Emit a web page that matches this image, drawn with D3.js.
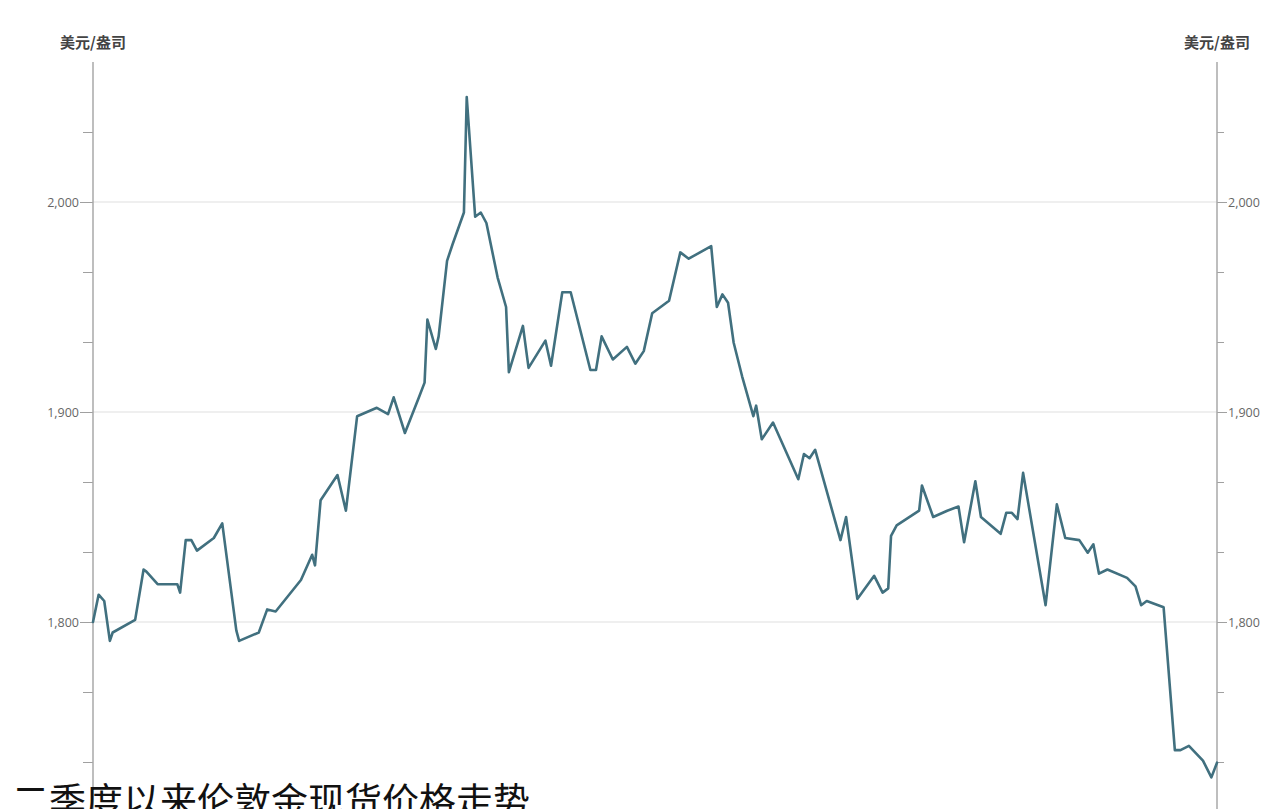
<!DOCTYPE html>
<html>
<head>
<meta charset="utf-8">
<script src="https://cdn.jsdelivr.net/npm/d3@7/dist/d3.min.js"></script>
<style>
  html, body { margin: 0; padding: 0; background: #fff; overflow: hidden; }
  svg { display: block; }
</style>
</head>
<body>
<svg id="chart" width="1284" height="809"></svg>
<script>
// ---- data (trading-session index, price in USD/oz) ----
const sessions = [0,2,4,6,7,15,18,19,23,30,31,33,35,37,43,46,51,52,59,62,65,74,78,79,81,87,90,94,101,105,107,111,116,118,119,122,123,126,128,132,133,136,138,140,144,147,148,153,155,161,163,167,170,177,179,181,185,190,193,196,199,205,209,212,220,222,224,226,228,231,235,236,238,242,251,253,255,257,266,268,272,278,281,283,284,286,294,295,299,304,308,310,314,316,323,325,327,329,331,339,343,346,351,354,356,358,361,368,371,373,375,381,385,387,390,395,398,400];
const prices = [1800,1813,1810,1791,1795,1801,1825,1824,1818,1818,1814,1839,1839,1834,1840,1847,1796,1791,1795,1806,1805,1820,1832,1827,1858,1870,1853,1898,1902,1899,1907,1890,1907,1914,1944,1930,1936,1972,1980,1995,2050,1993,1995,1990,1964,1950,1919,1941,1921,1934,1922,1957,1957,1920,1920,1936,1925,1931,1923,1929,1947,1953,1976,1973,1979,1950,1956,1952,1933,1917,1898,1903,1887,1895,1868,1880,1878,1882,1839,1850,1811,1822,1814,1816,1841,1846,1853,1865,1850,1853,1855,1838,1867,1850,1842,1852,1852,1849,1871,1808,1856,1840,1839,1833,1837,1823,1825,1821,1817,1808,1810,1807,1739,1739,1741,1734,1726,1733];
const majorTicks = [1800, 1900, 2000];
const unitLabel = "美元/盎司";
const titleText = "二季度以来伦敦金现货价格走势";

const data = sessions.map((s, i) => ({ s, v: prices[i] }));

const svg = d3.select("#chart");
const xLeft = 93, xRight = 1217;

const x = d3.scaleLinear().domain([0, 400]).range([xLeft, xRight]);
const y = d3.scaleLinear().domain([1700, 2066.667]).range([832, 62]);

const allTicks = d3.range(0, 11).map(i => 1700 + i * 100 / 3);
const isMajor = t => majorTicks.some(m => Math.abs(m - t) < 1e-6);

// gridlines
svg.append("g")
  .selectAll("line")
  .data(majorTicks)
  .join("line")
  .attr("x1", xLeft).attr("x2", xRight)
  .attr("y1", d => y(d)).attr("y2", d => y(d))
  .attr("stroke", "#efefef").attr("stroke-width", 1.8);

// left axis
const leftAxis = d3.axisLeft(y)
  .tickValues(allTicks)
  .tickSize(0)
  .tickFormat(d => isMajor(d) ? d3.format(",")(Math.round(d)) : "");
const gL = svg.append("g").attr("transform", `translate(${xLeft},0)`).call(leftAxis);
gL.select(".domain").remove();
gL.selectAll(".tick line")
  .attr("x2", d => isMajor(d) ? -13 : -10)
  .attr("stroke", "#a0a0a0").attr("stroke-width", 1);
gL.selectAll(".tick text")
  .attr("x", -14).attr("dy", "0.35em")
  .attr("font-family", "'Open Sans', 'Noto Sans', sans-serif")
  .attr("font-size", 12.5).attr("fill", "#666");
svg.append("line")
  .attr("x1", xLeft).attr("x2", xLeft).attr("y1", 62).attr("y2", 809)
  .attr("stroke", "#a8a8a8").attr("stroke-width", 1.5);

// right axis
const rightAxis = d3.axisRight(y)
  .tickValues(allTicks)
  .tickSize(0)
  .tickFormat(d => isMajor(d) ? d3.format(",")(Math.round(d)) : "");
const gR = svg.append("g").attr("transform", `translate(${xRight},0)`).call(rightAxis);
gR.select(".domain").remove();
gR.selectAll(".tick line")
  .attr("x2", d => isMajor(d) ? 10 : 7)
  .attr("stroke", "#a0a0a0").attr("stroke-width", 1);
gR.selectAll(".tick text")
  .attr("x", 11).attr("dy", "0.35em")
  .attr("font-family", "'Open Sans', 'Noto Sans', sans-serif")
  .attr("font-size", 12.5).attr("fill", "#666");
svg.append("line")
  .attr("x1", xRight).attr("x2", xRight).attr("y1", 62).attr("y2", 809)
  .attr("stroke", "#a8a8a8").attr("stroke-width", 1.5);

// unit labels
[xLeft, xRight].forEach(cx => {
  svg.append("text")
    .attr("x", cx).attr("y", 48)
    .attr("text-anchor", "middle")
    .attr("font-family", "'Noto Sans CJK SC', sans-serif")
    .attr("font-size", 15).attr("font-weight", 700)
    .attr("fill", "#444")
    .text(unitLabel);
});

// price line
const line = d3.line().x(d => x(d.s)).y(d => y(d.v)).curve(d3.curveLinear);
svg.append("path")
  .datum(data)
  .attr("d", line)
  .attr("fill", "none")
  .attr("stroke", "#41707f")
  .attr("stroke-width", 2.6)
  .attr("stroke-linejoin", "round")
  .attr("stroke-linecap", "round");

// title (cut by bottom edge as in the reference)
svg.append("text")
  .attr("x", 12).attr("y", 815)
  .attr("font-family", "'Noto Sans CJK SC', sans-serif")
  .attr("font-size", 37)
  .attr("fill", "#111")
  .text(titleText);
</script>
</body>
</html>
